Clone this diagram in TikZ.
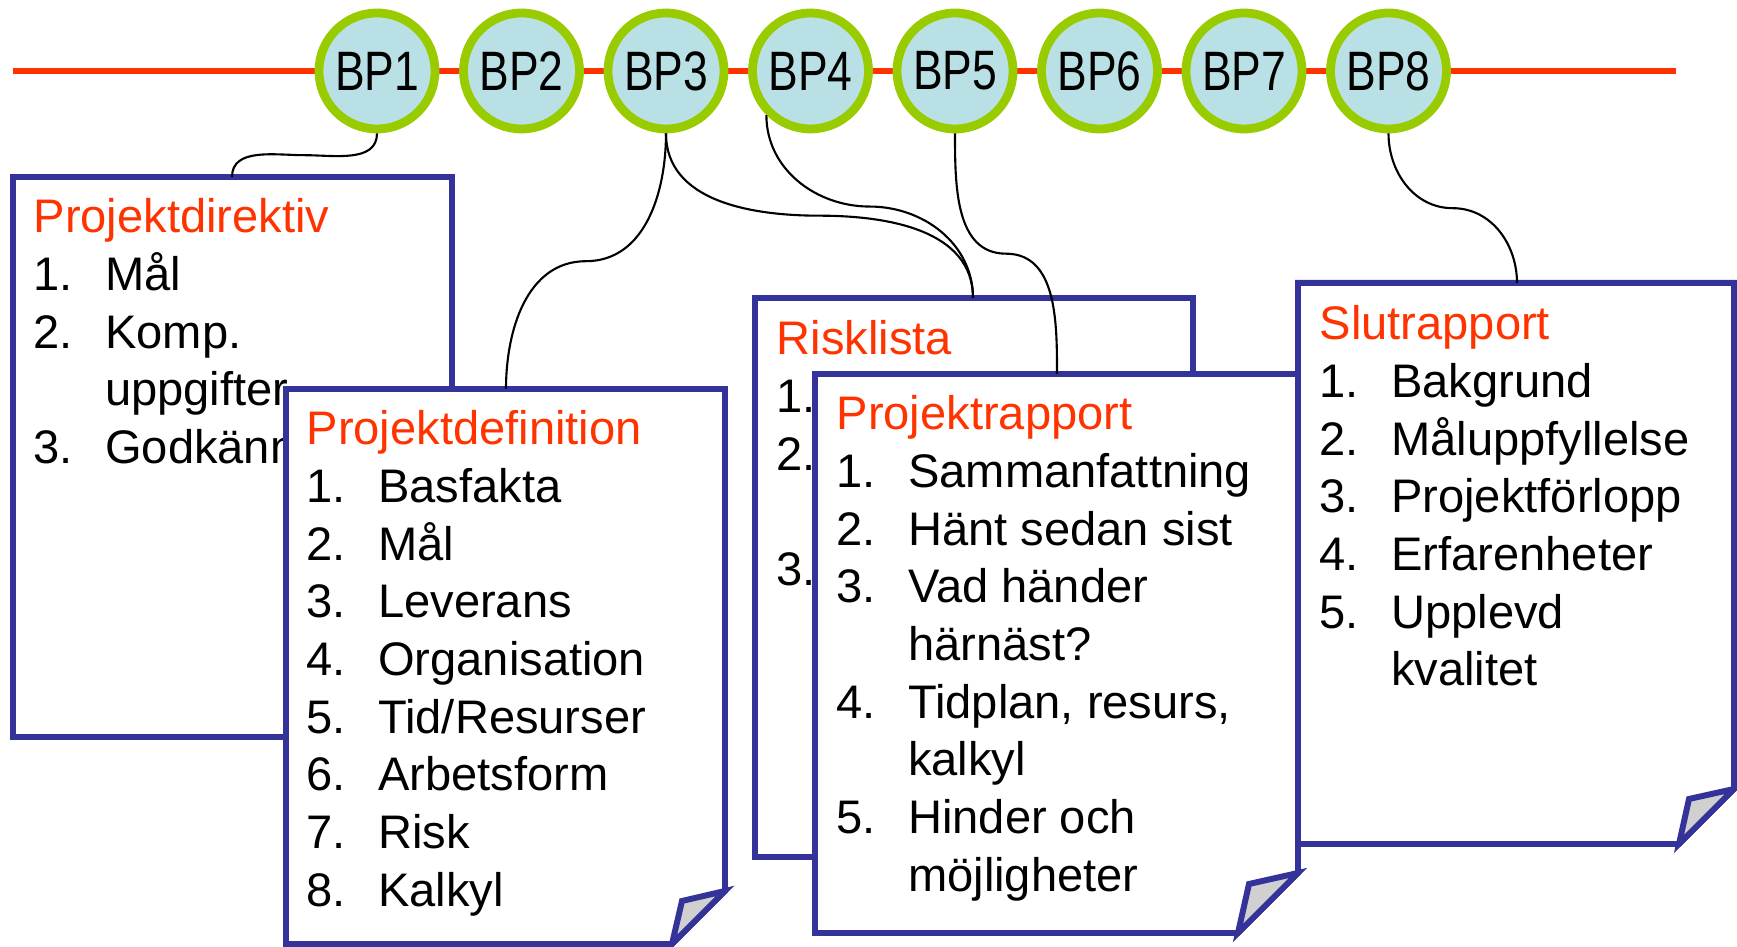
\documentclass[tikz,border=0pt]{standalone}
\usepackage{fontspec}
\setmainfont{Liberation Sans}
\newfontfamily\bpfont[FakeStretch=0.8]{Liberation Sans}
\usetikzlibrary{calc}
\definecolor{pptblue}{HTML}{333399}
\definecolor{pptred}{HTML}{FF3300}
\definecolor{pptgreen}{HTML}{99CC00}
\definecolor{pptcyan}{HTML}{B9E0E5}
\definecolor{foldgray}{HTML}{D0D0D0}
\newcommand{\itm}[2]{\makebox[0.715cm][l]{#1}#2}
\tikzset{
  bp/.style={circle, draw=pptgreen, fill=pptcyan, line width=2.5pt, minimum size=1.16cm,
    inner sep=0pt, font=\bpfont\fontsize{15.8}{18}\selectfont},
  sheet/.style={draw=pptblue, fill=white, line width=1.7pt},
  flap/.style={draw=pptblue, fill=foldgray, line width=1.7pt},
  doctext/.style={anchor=base west, inner sep=0pt,
    font=\fontsize{13.4}{16.4}\selectfont},
  conn/.style={black, line width=0.6pt},
}
\begin{document}
\begin{tikzpicture}
            \useasboundingbox (0,0) rectangle (17.37,9.47);
            % tidslinje med beslutspunkter
            \draw[pptred, line width=1.7pt] (0.13,8.76) -- (16.76,8.76);
            \foreach \i in {1,...,8}
                \node[bp] (bp\i) at ({3.77+1.445*(\i-1)},8.76) {BP\i};
            
            % Projektdirektiv
            \draw[sheet] (0.13,2.10) rectangle (4.52,7.70);
            \coordinate (dirtop) at (2.32,7.70);
            \node[doctext] (dir) at (0.33,7.14) {\begin{tabular}[t]{@{}l@{}}
                \textcolor{pptred}{Projektdirektiv}\\ \itm{1.}{Mål}\\ \itm{2.}{Komp.}\\
                \itm{}{uppgifter}\\ \itm{3.}{Godkännande}\end{tabular}};
            
            % Projektdefinition
            \draw[sheet] (2.86,0.03) -- (2.86,5.58) -- (7.25,5.58) -- (7.25,0.56) -- (6.72,0.03) -- cycle;
            \draw[flap]  (6.72,0.03) -- (6.82,0.46) -- (7.25,0.56) -- cycle;
            \coordinate (deftop) at (5.06,5.58);
            \node[doctext] (def) at (3.06,5.02) {\begin{tabular}[t]{@{}l@{}}
                \textcolor{pptred}{Projektdefinition}\\ \itm{1.}{Basfakta}\\ \itm{2.}{Mål}\\
                \itm{3.}{Leverans}\\ \itm{4.}{Organisation}\\ \itm{5.}{Tid/Resurser}\\
                \itm{6.}{Arbetsform}\\ \itm{7.}{Risk}\\ \itm{8.}{Kalkyl}\end{tabular}};
            
            % Risklista
            \draw[sheet] (7.55,0.90) rectangle (11.93,6.49);
            \coordinate (risktop) at (9.73,6.49);
            \node[doctext] (risk) at (7.76,5.92) {\begin{tabular}[t]{@{}l@{}}
                \textcolor{pptred}{Risklista}\\ 1.\\ 2.\\ \\ 3.\end{tabular}};
            
            % Projektrapport
            \draw[sheet] (8.15,0.14) -- (8.15,5.73) -- (12.98,5.73) -- (12.98,0.74) -- (12.38,0.14) -- cycle;
            \draw[flap]  (12.38,0.14) -- (12.49,0.63) -- (12.98,0.74) -- cycle;
            \coordinate (raptop) at (10.57,5.73);
            \node[doctext] (rap) at (8.36,5.17) {\begin{tabular}[t]{@{}l@{}}
                \textcolor{pptred}{Projektrapport}\\ \itm{1.}{Sammanfattning}\\
                \itm{2.}{Hänt sedan sist}\\ \itm{3.}{Vad händer}\\ \itm{}{härnäst?}\\
                \itm{4.}{Tidplan, resurs,}\\ \itm{}{kalkyl}\\ \itm{5.}{Hinder och}\\
                \itm{}{möjligheter}\end{tabular}};
            
            % Slutrapport
            \draw[sheet] (12.98,1.03) -- (12.98,6.64) -- (17.34,6.64) -- (17.34,1.58) -- (16.79,1.03) -- cycle;
            \draw[flap]  (16.79,1.03) -- (16.89,1.48) -- (17.34,1.58) -- cycle;
            \coordinate (slutop) at (15.17,6.64);
            \node[doctext] (slut) at (13.19,6.07) {\begin{tabular}[t]{@{}l@{}}
                \textcolor{pptred}{Slutrapport}\\ \itm{1.}{Bakgrund}\\ \itm{2.}{Måluppfyllelse}\\
                \itm{3.}{Projektförlopp}\\ \itm{4.}{Erfarenheter}\\ \itm{5.}{Upplevd}\\
                \itm{}{kvalitet}\end{tabular}};
            
            % kopplingar
            \draw[conn] (bp1.south) to[out=-90,in=0] ($(bp1.south)!0.5!(dirtop)$) to[out=180,in=90] (dirtop);
            \draw[conn] (bp3.south) to[out=-90,in=0] ($(bp3.south)!0.5!(deftop)$) to[out=180,in=90] (deftop);
            \draw[conn] (bp3.south) to[out=-90,in=180] ($(bp3.south)!0.5!(risktop)$) to[out=0,in=90] (risktop);
            \draw[conn] (bp4.south west) to[out=-90,in=180] ($(bp4.south west)!0.5!(risktop)$) to[out=0,in=90] (risktop);
            \draw[conn] (bp5.south) to[out=-90,in=180] ($(bp5.south)!0.5!(raptop)$) to[out=0,in=90] (raptop);
            \draw[conn] (bp8.south) to[out=-90,in=180] ($(bp8.south)!0.5!(slutop)$) to[out=0,in=90] (slutop);
        \end{tikzpicture}
\end{document}
